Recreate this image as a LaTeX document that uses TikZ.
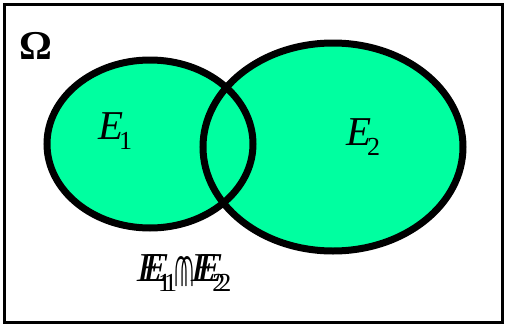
\documentclass[tikz,border=0pt]{standalone}
\usepackage{fontspec}
\setmainfont{Liberation Serif}
\definecolor{setgreen}{RGB}{0,255,160}
\tikzset{
  setfill/.style={fill=setgreen},
  setline/.style={draw=black, line width=7pt},
  frameline/.style={draw=black, line width=3pt},
  lab/.style={inner sep=0pt, anchor=base west},
}
\newcommand{\Elab}[1]{{\fontsize{41}{41}\selectfont\itshape E}\hspace{-4pt}\raisebox{-10pt}{\fontsize{26}{26}\selectfont #1}}
\newcommand{\capsym}{\raisebox{-5pt}{\resizebox{18pt}{30pt}{\fontsize{40}{40}\selectfont ∩}}}
\begin{document}
\begin{tikzpicture}[x=1pt,y=-1pt]
\useasboundingbox (0,0) rectangle (507,327);
\path[frameline] (4.5,4.5) rectangle (502.5,322.5);
\path[setfill] (150,144) ellipse [x radius=103, y radius=84];
\path[setfill] (333,147) ellipse [x radius=130, y radius=104];
\path[setline] (150,144) ellipse [x radius=103, y radius=84];
\path[setline] (333,147) ellipse [x radius=130, y radius=104];
\node[lab] (omega) at (19,59) {\fontsize{41}{41}\selectfont\bfseries Ω};
\node[lab] (e1) at (98,139) {\Elab{1}};
\node[lab] (e2) at (346,145) {\Elab{2}};
\node[lab] (capa) at (137,281) {\Elab{1}\hspace{1pt}\capsym\hspace{1pt}\Elab{2}};
\node[lab] (capb) at (143,281) {\Elab{1}\hspace{1pt}\capsym\hspace{1pt}\Elab{2}};
\end{tikzpicture}
\end{document}
